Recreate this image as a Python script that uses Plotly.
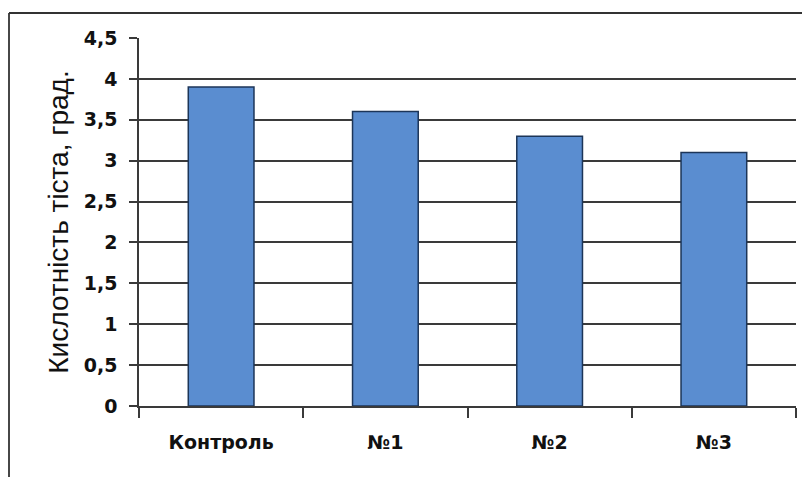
import plotly.graph_objects as go

categories = ["Контроль", "№1", "№2", "№3"]
values = [3.9, 3.6, 3.3, 3.1]
y_ticks = [0, 0.5, 1, 1.5, 2, 2.5, 3, 3.5, 4, 4.5]
y_title = "Кислотність тіста, град."

TICK_FONT = "DejaVu Sans"
TITLE_FONT = "Liberation Sans"

W, H = 802, 469
L, R, T, B = 131, 14, 30, 71
pw, ph = W - L - R, H - T - B

def px_x(x):
    return (x - L) / pw

def px_y(y):
    return (H - B - y) / ph

fig = go.Figure()
fig.add_trace(go.Bar(
    x=categories, y=values,
    width=0.4,
    marker=dict(color="#5a8dd0", line=dict(color="#1c3558", width=1.5)),
    hoverinfo="x+y",
))

fig.update_layout(
    width=W, height=H,
    margin=dict(l=L, r=R, t=T, b=B),
    paper_bgcolor="white", plot_bgcolor="white",
    separators=", ",
    showlegend=False,
    font=dict(family=TICK_FONT, color="#111111"),
    xaxis=dict(
        showgrid=False,
        showline=True, linecolor="#3a3a3a", linewidth=1.5,
        ticks="outside", ticklen=10, tickcolor="#3a3a3a", tickwidth=1.5,
        tickson="boundaries",
        ticklabelstandoff=18,
        tickfont=dict(size=19, family=TICK_FONT, weight="bold", color="#111111"),
        range=[-0.5, 3.5],
    ),
    yaxis=dict(
        range=[0, 4.5],
        tickvals=y_ticks,
        showgrid=True, gridcolor="#3a3a3a", gridwidth=1.5,
        showline=True, linecolor="#3a3a3a", linewidth=1.5,
        ticks="outside", ticklen=8, tickcolor="#3a3a3a", tickwidth=1.5,
        ticklabelstandoff=8,
        tickfont=dict(size=19, family=TICK_FONT, weight="bold", color="#111111"),
        title=dict(text=y_title, font=dict(size=28, family=TITLE_FONT, color="#111111"), standoff=7),
        zeroline=False,
    ),
    shapes=[
        dict(type="line", xref="paper", yref="paper",
             x0=px_x(1), x1=px_x(W + 20), y0=px_y(5), y1=px_y(5),
             line=dict(color="#333333", width=1.8)),
        dict(type="line", xref="paper", yref="paper",
             x0=px_x(1), x1=px_x(1), y0=px_y(5), y1=px_y(H + 20),
             line=dict(color="#333333", width=1.8)),
    ],
)

fig.write_html("out.html")
